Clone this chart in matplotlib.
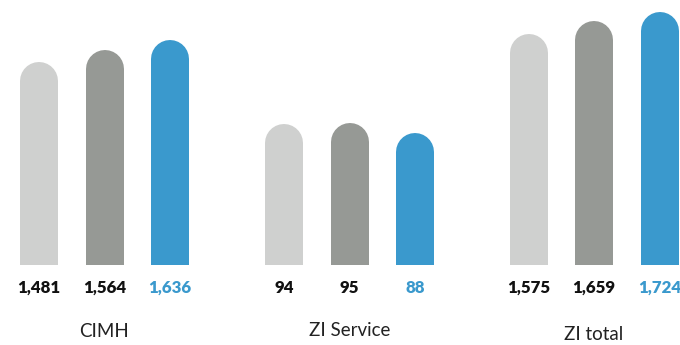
import matplotlib.pyplot as plt
import matplotlib.transforms as mtransforms

plt.rcParams['font.family'] = ['Lato', 'DejaVu Sans']

# ------------------------------------------------------------
# Data
# ------------------------------------------------------------
groups = ['CIMH', 'ZI Service', 'ZI total']
cimh = [1481, 1564, 1636]
zi_service = [94, 95, 88]
zi_total = [1575, 1659, 1724]
values = [cimh, zi_service, zi_total]
ymax = [1930, 177, 1805]          # each group has its own scale

bar_colors = ['#cfd0cf', '#969995', '#3a99cd']
label_colors = ['#111111', '#111111', '#3a99cd']

# ------------------------------------------------------------
# Layout (pixels at dpi=100)
# ------------------------------------------------------------
W, H = 680, 345
fig = plt.figure(figsize=(W / 100, H / 100), dpi=100)

centers = [104.5, 349.5, 594]
half_w = 85
step = 65.5
bar_px = 38
bottom_px = 80
group_label_off = [-72, -71, -75]   # baseline offset below axis (px)


def px2pt(p):
    return p * 72 / 100


for vals, top, cx, name, goff in zip(values, ymax, centers, groups, group_label_off):
    ax = fig.add_axes([(cx - half_w) / W, bottom_px / H,
                       2 * half_w / W, (H - bottom_px) / H])
    ax.set_xlim(1 - half_w / step, 1 + half_w / step)
    ax.set_ylim(0, top)
    ax.axis('off')

    # rounded-top bars: thick lines with round caps, pulled down by the
    # cap radius so the cap ends exactly at the value
    shift = mtransforms.ScaledTranslation(0, -bar_px / 2 / 100, fig.dpi_scale_trans)
    for i, v in enumerate(vals):
        ax.plot([i, i], [0, v], color=bar_colors[i], lw=px2pt(bar_px),
                solid_capstyle='round', transform=ax.transData + shift,
                clip_on=True)
        ax.annotate(f'{v:,}', xy=(i, 0), xytext=(0, px2pt(-28)),
                    textcoords='offset points', ha='center', va='baseline',
                    fontsize=12.2, fontweight='heavy', color=label_colors[i],
                    annotation_clip=False)

    ax.annotate(name, xy=(1, 0), xytext=(0, px2pt(goff)),
                textcoords='offset points', ha='center', va='baseline',
                fontsize=13.5, color='#222222', annotation_clip=False)

fig.savefig('out.png', dpi=100, facecolor='white')
